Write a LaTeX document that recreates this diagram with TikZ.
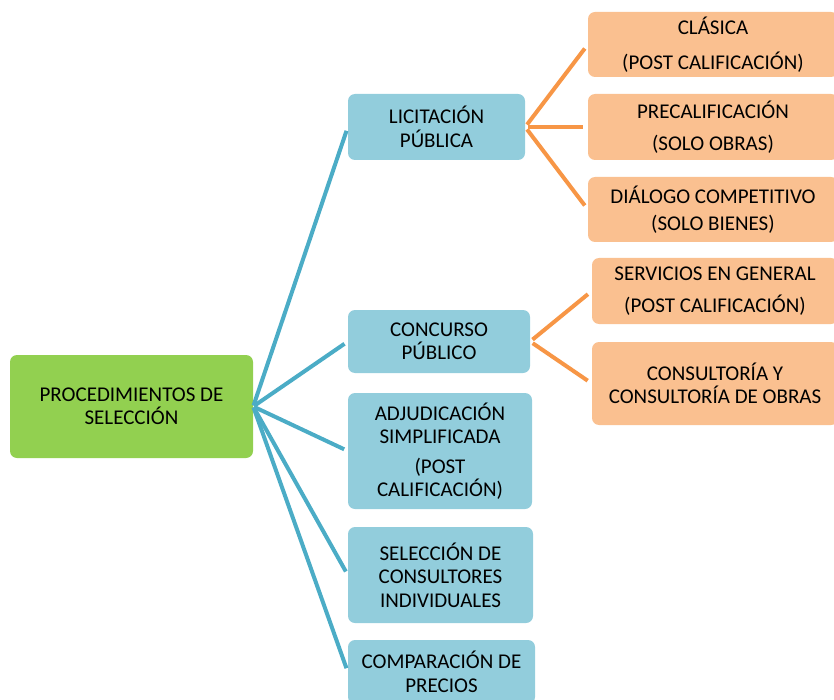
\documentclass[tikz,border=0pt]{standalone}
\usepackage{fontspec}
\setmainfont{Carlito}
\begin{document}
\begin{tikzpicture}[x=1pt,y=-1pt,
  box/.style={rounded corners=7pt, draw=none, align=center, inner sep=0pt,
    font=\fontsize{21}{23.5}\selectfont, text=black},
  rootbox/.style={box, fill=rootgreen},
  levelone/.style={box, fill=lvlblue},
  leveltwo/.style={box, fill=lvlorange},
  blueline/.style={draw=lineblue, line width=4pt, shorten >=4pt, shorten <=1pt},
  orangeline/.style={draw=lineorange, line width=4pt, shorten >=5pt, shorten <=3pt}]
\definecolor{rootgreen}{RGB}{146,208,80}
\definecolor{lvlblue}{RGB}{146,205,220}
\definecolor{lvlorange}{RGB}{250,192,144}
\definecolor{lineblue}{RGB}{75,172,198}
\definecolor{lineorange}{RGB}{247,150,70}
\useasboundingbox (0,0) rectangle (834,700);
\begin{scope}
\clip (0,0) rectangle (834,700);

% root
\node[rootbox, minimum width=243pt, minimum height=103pt] (root) at (131.5,406.5)
  {PROCEDIMIENTOS DE\\SELECCIÓN};

% first level
\node[levelone, minimum width=177pt, minimum height=66pt] (lic) at (436.5,127)
  {LICITACIÓN\\PÚBLICA};
\node[levelone, minimum width=182pt, minimum height=63pt] (con) at (439,341.5)
  {CONCURSO\\PÚBLICO};
\node[levelone, minimum width=184pt, minimum height=116pt] (adj) at (440,451)
  {ADJUDICACIÓN\\SIMPLIFICADA\\[6pt](POST\\CALIFICACIÓN)};
\node[levelone, minimum width=185pt, minimum height=96pt] (sel) at (440.5,575)
  {SELECCIÓN DE\\CONSULTORES\\INDIVIDUALES};
\node[levelone, minimum width=187pt, minimum height=64pt] (com) at (441.5,672)
  {COMPARACIÓN DE\\PRECIOS};

% second level
\node[leveltwo, minimum width=250pt, minimum height=65pt] (cla) at (713,44.5)
  {CLÁSICA\\[11pt](POST CALIFICACIÓN)};
\node[leveltwo, minimum width=250pt, minimum height=66pt] (pre) at (713,127)
  {PRECALIFICACIÓN\\[9pt](SOLO OBRAS)};
\node[leveltwo, minimum width=250pt, minimum height=65pt] (dia) at (713,209.5)
  {DIÁLOGO COMPETITIVO\\[3pt](SOLO BIENES)};
\node[leveltwo, minimum width=246pt, minimum height=66pt] (ser) at (715,291)
  {SERVICIOS EN GENERAL\\[9pt](POST CALIFICACIÓN)};
\node[leveltwo, minimum width=246pt, minimum height=83pt] (cons) at (715,383.5)
  {CONSULTORÍA Y\\CONSULTORÍA DE OBRAS};

% connectors
\foreach \t in {lic,con,adj,sel,com}
  \draw[blueline] (root.east) -- (\t.west);
\foreach \t in {cla,pre,dia}
  \draw[orangeline] (lic.east) -- (\t.west);
\foreach \t in {ser,cons}
  \draw[orangeline] (con.east) -- (\t.west);
\end{scope}
\end{tikzpicture}
\end{document}
